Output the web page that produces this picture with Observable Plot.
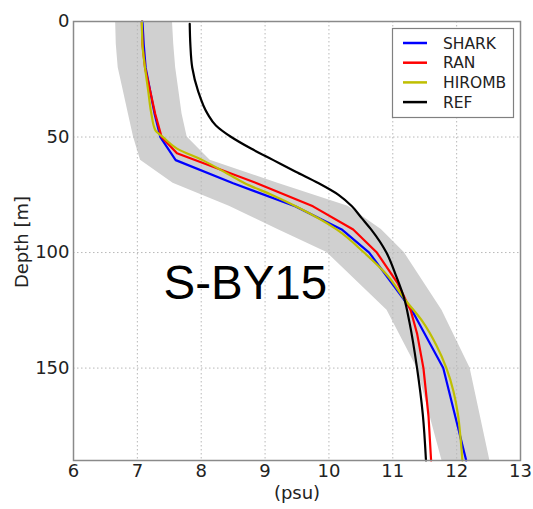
<!DOCTYPE html>
<html>
<head>
<meta charset="utf-8">
<script src="https://cdn.jsdelivr.net/npm/d3@7"></script>
<script src="https://cdn.jsdelivr.net/npm/@observablehq/plot@0.6"></script>
<style>
  html, body { margin: 0; padding: 0; background: #fff; }
  #chart { position: relative; width: 533px; height: 509px; }
</style>
</head>
<body>
<div id="chart"></div>
<script>
// ---- data ----
const stationName = "S-BY15";
const xTicks = [6, 7, 8, 9, 10, 11, 12, 13];
const yTicks = [0, 50, 100, 150];
const seriesNames = ["SHARK", "RAN", "HIROMB", "REF"];
const seriesColors = ["#0000ff", "#ff0000", "#bfbf00", "#000000"];

// SHARK observations (psu) and the grey spread around them
const sharkDepth = [0, 10, 20, 30, 40, 50, 60, 70, 80, 90, 100, 125, 150, 190];
const sharkSal   = [7.08, 7.10, 7.13, 7.20, 7.27, 7.36, 7.60, 8.50, 9.47, 10.20, 10.63, 11.30, 11.79, 12.15];
const bandLow    = [6.66, 6.67, 6.70, 6.78, 6.86, 6.94, 7.05, 7.56, 8.44, 9.20, 9.97, 10.91, 11.38, 11.77];
const bandHigh   = [7.55, 7.57, 7.60, 7.65, 7.70, 7.78, 8.14, 9.20, 10.30, 10.82, 11.18, 11.77, 12.21, 12.52];

// RAN model
const ranDepth = [0, 10, 20, 30, 40, 50, 57, 70, 80, 90, 100, 113, 125, 135, 150, 171, 190];
const ranSal   = [7.07, 7.08, 7.12, 7.20, 7.28, 7.38, 7.62, 8.87, 9.75, 10.38, 10.75, 11.07, 11.28, 11.38, 11.48, 11.56, 11.60];

// HIROMB model
const hiDepth = [0, 10, 20, 30, 40, 47, 50, 55, 60, 66, 70, 75, 80, 90, 100, 110, 120, 130, 140, 150, 160, 170, 180, 190];
const hiSal   = [7.07, 7.08, 7.12, 7.17, 7.22, 7.28, 7.40, 7.62, 8.02, 8.42, 8.68, 9.10, 9.48, 10.12, 10.55, 10.92, 11.18, 11.47, 11.68, 11.84, 11.95, 12.02, 12.06, 12.09];

// REF model
const refDepth = [1, 10, 20, 30, 40, 45, 50, 55, 60, 65, 70, 75, 80, 85, 90, 100, 110, 120, 130, 150, 170, 190];
const refSal   = [7.82, 7.83, 7.86, 7.95, 8.10, 8.23, 8.47, 8.78, 9.13, 9.48, 9.84, 10.15, 10.36, 10.51, 10.66, 10.90, 11.05, 11.18, 11.26, 11.38, 11.47, 11.52];

// ---- tables built from the arrays ----
const band = sharkDepth.map((d, i) => ({depth: d, lo: bandLow[i], hi: bandHigh[i]}));
function table(name, depths, sal) {
  return depths.map((d, i) => ({series: name, depth: d, psu: sal[i]}));
}
const angular = [
  ...table("SHARK", sharkDepth, sharkSal),
  ...table("RAN", ranDepth, ranSal)
];
const smooth = [
  ...table("HIROMB", hiDepth, hiSal),
  ...table("REF", refDepth, refSal)
];

const W = 533, H = 509;
const mL = 73, mR = 13, mT = 21, mB = 49;

const plot = Plot.plot({
  width: W,
  height: H,
  marginLeft: mL,
  marginRight: mR,
  marginTop: mT,
  marginBottom: mB,
  style: {fontFamily: "DejaVu Sans", fontSize: "18px", background: "#fff", color: "#222"},
  x: {domain: [6, 13], ticks: xTicks},
  y: {domain: [0, 190], reverse: true, ticks: yTicks},
  color: {domain: seriesNames, range: seriesColors},
  marks: [
    Plot.areaX(band, {y: "depth", x1: "lo", x2: "hi", fill: "#d0d0d0"}),
    Plot.gridX(xTicks.slice(1, -1), {stroke: "#b8b8b8", strokeOpacity: 1, strokeDasharray: "1.5,2.5"}),
    Plot.gridY(yTicks.slice(1), {stroke: "#b8b8b8", strokeOpacity: 1, strokeDasharray: "1.5,2.5"}),
    Plot.line(angular, {x: "psu", y: "depth", z: "series", stroke: "series", strokeWidth: 2.2, curve: "linear"}),
    Plot.line(smooth, {x: "psu", y: "depth", z: "series", stroke: "series", strokeWidth: 2.2, curve: "monotone-y"}),
    Plot.frame({stroke: "#8a8a8a", strokeWidth: 1.5}),
    Plot.axisX(xTicks, {tickSize: 0, tickPadding: 4, label: null, fontSize: 18, fill: "#222"}),
    Plot.axisY(yTicks, {tickSize: 0, tickPadding: 4, label: null, fontSize: 18, fill: "#222"}),
    Plot.text(["(psu)"], {frameAnchor: "bottom", dy: 38, fontSize: 18, textAnchor: "middle", fill: "#222"}),
    Plot.text(["Depth [m]"], {frameAnchor: "left", dx: -51, dy: 1, rotate: -90, fontSize: 18, textAnchor: "middle", fill: "#222"}),
    Plot.text([stationName], {frameAnchor: "top-left", dx: 90, dy: 262, fontSize: 47.5, fontFamily: "Liberation Sans", textAnchor: "start", lineAnchor: "middle", fill: "#000"})
  ]
});

document.getElementById("chart").appendChild(plot);

// ---- legend (upper right, inside the frame) ----
const svg = d3.select(plot);
const lg = svg.append("g").attr("font-family", "DejaVu Sans").attr("font-size", 15.5).attr("text-anchor", "start");
lg.append("rect").attr("x", 392.5).attr("y", 28.5).attr("width", 121).attr("height", 89)
  .attr("fill", "#fff").attr("stroke", "#808080").attr("stroke-width", 1.2);
seriesNames.forEach((name, i) => {
  const cy = 43 + i * 19.7;
  lg.append("line").attr("x1", 403).attr("x2", 427).attr("y1", cy).attr("y2", cy)
    .attr("stroke", seriesColors[i]).attr("stroke-width", 2.5);
  lg.append("text").attr("x", 443).attr("y", cy).attr("dy", "0.36em").attr("fill", "#222").attr("text-anchor", "start").text(name);
});
</script>
</body>
</html>
